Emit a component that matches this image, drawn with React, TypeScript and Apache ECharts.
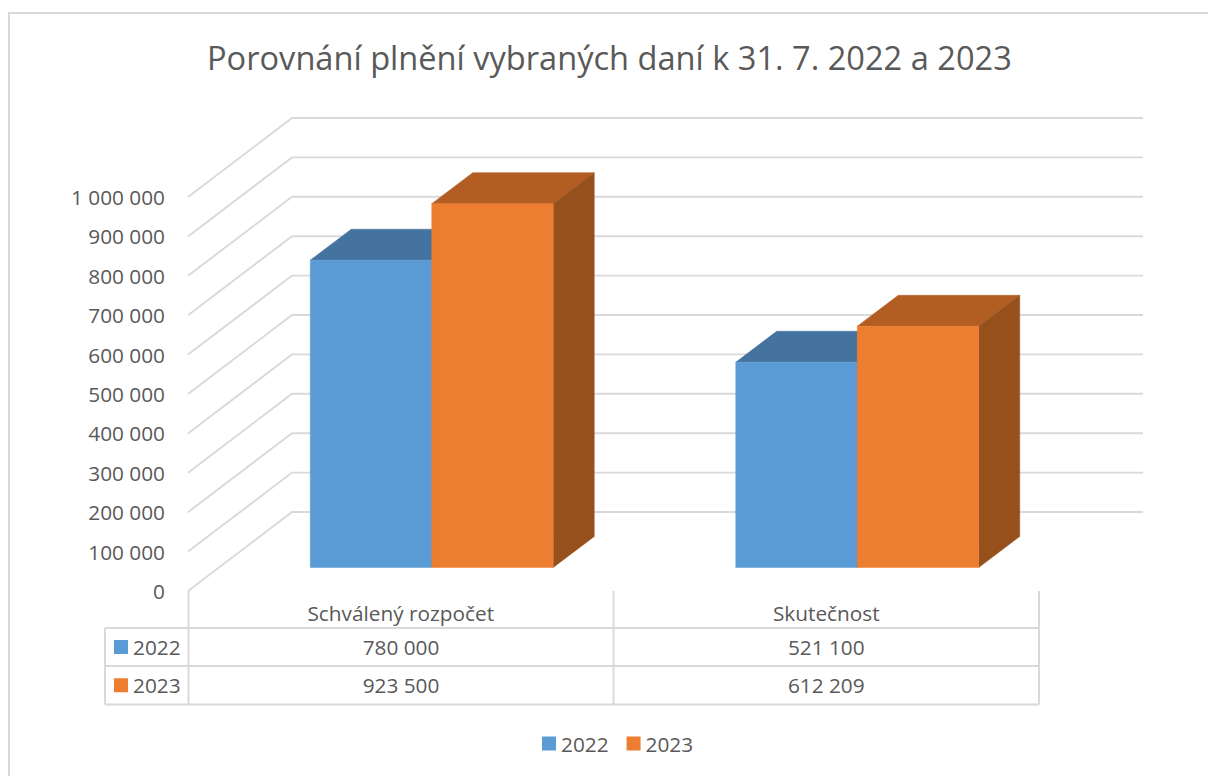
import React, { useEffect, useRef } from "react";
import * as echarts from "echarts";

const title = "Porovnání plnění vybraných daní k 31. 7. 2022 a 2023";
const categories = ["Schválený rozpočet", "Skutečnost"];
const seriesNames = ["2022", "2023"];
const values2022 = [780000, 521100];
const values2023 = [923500, 612209];
const gridTicks = [0, 100000, 200000, 300000, 400000, 500000, 600000, 700000, 800000, 900000, 1000000];

const FONT = "'Open Sans', 'Noto Sans', sans-serif";
const TEXT = "#595959";
const LINE = "#d9d9d9";
const COLORS = [
  { front: "#5b9bd5", top: "#44739f", side: "#3f6e99" },
  { front: "#ed7d31", top: "#b25e22", side: "#96501c" },
];

const G = { left: 188, top: 197, width: 851, height: 394 };
const WALL = { dx: 104, dy: 79 };
const BAR = { shiftX: 31, shiftY: 23.5, dx: 41, dy: 31, ratio: 0.2855 };
const LW = 1.9;
const fmt = (v: number) => String(v).replace(/\B(?=(\d{3})+$)/g, " ");

function gridItem(params: any, api: any) {
  const v = api.value(0);
  const y = api.coord([0, v])[1];
  const cs = params.coordSys;
  return {
    type: "polyline",
    shape: {
      points: [
        [cs.x, y],
        [cs.x + WALL.dx, y - WALL.dy],
        [cs.x + cs.width + WALL.dx, y - WALL.dy],
      ],
    },
    style: { stroke: LINE, lineWidth: LW, fill: "none" },
  };
}

const barItem = (seriesIndex: number) => (_params: any, api: any) => {
  const c = COLORS[seriesIndex];
  const center = api.coord([api.value(0), 0])[0];
  const base = api.coord([api.value(0), 0])[1];
  const topY = api.coord([api.value(0), api.value(1)])[1];
  const w = api.size([1, 0])[0] * BAR.ratio;
  const x0 = center + BAR.shiftX + (seriesIndex - 1) * w;
  const x1 = x0 + w;
  const yb = base - BAR.shiftY;
  const yt = topY - BAR.shiftY;
  const poly = (points: number[][], fill: string) => ({
    type: "polygon",
    shape: { points },
    style: { fill, stroke: fill, lineWidth: 0.5 },
  });
  return {
    type: "group",
    children: [
      poly([[x0, yt], [x0 + BAR.dx, yt - BAR.dy], [x1 + BAR.dx, yt - BAR.dy], [x1, yt]], c.top),
      poly([[x1, yt], [x1 + BAR.dx, yt - BAR.dy], [x1 + BAR.dx, yb - BAR.dy], [x1, yb]], c.side),
      poly([[x0, yt], [x1, yt], [x1, yb], [x0, yb]], c.front),
    ],
  };
};

function tableGraphics() {
  const line = (x1: number, y1: number, x2: number, y2: number) => ({
    type: "line",
    shape: { x1, y1, x2, y2 },
    style: { stroke: LINE, lineWidth: LW },
    silent: true,
  });
  const txt = (x: number, y: number, text: string, align: string) => ({
    type: "text",
    x,
    y,
    style: { text, font: `20.8px ${FONT}`, fill: TEXT, align, verticalAlign: "middle" },
    silent: true,
  });
  const rows = [values2022, values2023];
  const rowY = [628, 666, 704.5];
  const colX = [188.5, 613.5, 1039];
  const out: any[] = [
    { type: "rect", shape: { x: 9, y: 13, width: 1250, height: 900 }, style: { fill: "none", stroke: LINE, lineWidth: 2 }, silent: true },
    line(105, rowY[0], colX[2], rowY[0]),
    line(105, rowY[1], colX[2], rowY[1]),
    line(105, rowY[2], colX[2], rowY[2]),
    line(105, rowY[0], 105, rowY[2]),
    line(colX[0], 591, colX[0], rowY[2]),
    line(colX[1], 591, colX[1], rowY[2]),
    line(colX[2], 591, colX[2], rowY[2]),
  ];
  rows.forEach((vals, r) => {
    const cy = (rowY[r] + rowY[r + 1]) / 2;
    out.push({
      type: "rect",
      shape: { x: 114, y: cy - 7, width: 14, height: 14 },
      style: { fill: COLORS[r].front },
      silent: true,
    });
    out.push(txt(133, cy, seriesNames[r], "left"));
    vals.forEach((v, c) => out.push(txt((colX[c] + colX[c + 1]) / 2, cy, fmt(v), "center")));
  });
  return out;
}

export default function App() {
  const ref = useRef<HTMLDivElement>(null);
  useEffect(() => {
    const chart = echarts.init(ref.current!, undefined, { renderer: "svg" });
    chart.setOption({
      animation: false,
      backgroundColor: "#ffffff",
      textStyle: { fontFamily: FONT },
      title: {
        text: title,
        left: 202,
        top: 36,
        textStyle: { fontFamily: FONT, fontSize: 32.6, fontWeight: 400, color: TEXT },
      },
      legend: {
        data: seriesNames,
        left: 537,
        top: 728,
        itemWidth: 14,
        itemHeight: 14,
        itemGap: 18,
        icon: "rect",
        textStyle: { fontFamily: FONT, fontSize: 20.8, color: TEXT },
      },
      grid: { ...G, containLabel: false },
      xAxis: {
        type: "category",
        data: categories,
        axisLine: { show: false },
        axisTick: { show: false },
        axisLabel: { color: TEXT, fontFamily: FONT, fontSize: 20.8, margin: 11 },
      },
      yAxis: {
        type: "value",
        min: 0,
        max: 1000000,
        interval: 100000,
        axisLine: { show: false },
        axisTick: { show: false },
        splitLine: { show: false },
        axisLabel: { color: TEXT, fontFamily: FONT, fontSize: 20.8, margin: 23, formatter: (v: number) => fmt(v) },
      },
      graphic: tableGraphics(),
      series: [
        {
          type: "custom",
          name: "grid",
          coordinateSystem: "cartesian2d",
          clip: false,
          silent: true,
          data: gridTicks.map((t) => [t]),
          encode: { y: 0 },
          renderItem: gridItem,
        },
        ...[values2022, values2023].map((vals, i) => ({
          type: "custom",
          name: seriesNames[i],
          coordinateSystem: "cartesian2d",
          clip: false,
          itemStyle: { color: COLORS[i].front },
          data: vals.map((v, c) => [c, v]),
          encode: { x: 0, y: 1 },
          renderItem: barItem(i),
        })),
      ],
    });
    return () => chart.dispose();
  }, []);
  return <div ref={ref} style={{ position: "absolute", left: 0, top: 0, width: 1208, height: 776 }} />;
}
